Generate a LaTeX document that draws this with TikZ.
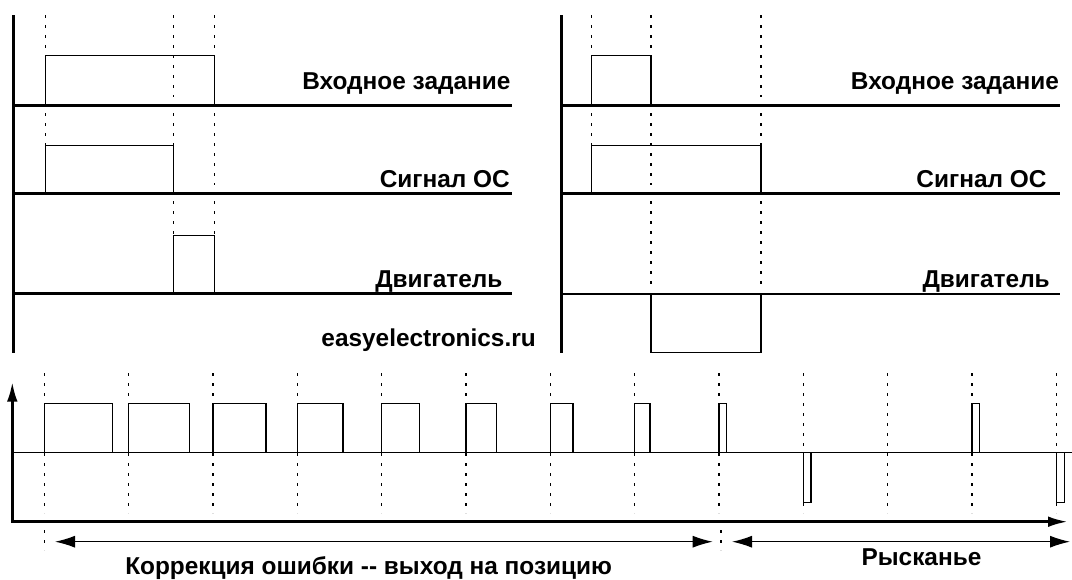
\documentclass[tikz,border=0pt]{standalone}
\usepackage{fontspec}
\setmainfont{Liberation Sans}
\usetikzlibrary{arrows.meta}
\begin{document}
\begin{tikzpicture}[x=0.75pt,y=-0.75pt,
  axis/.style={line width=2.2pt},
  sig/.style={line width=1.05pt},
  grid/.style={line width=1.1pt, dash pattern=on 2pt off 5.5pt},
  lab/.style={font=\bfseries\fontsize{18.3}{22}\selectfont, inner sep=0pt, anchor=base east},
  labw/.style={font=\bfseries\fontsize{18.3}{22}\selectfont, inner sep=0pt, anchor=base west},
  dim/.style={line width=0.9pt, {Latex[length=15pt,width=9pt]}-{Latex[length=15pt,width=9pt]}},
  axarrow/.style={line width=2.2pt, {Latex[length=15pt,width=8pt]}-{Latex[length=15pt,width=8pt]}}]
\useasboundingbox (0,0) rectangle (1072,579);

% ---------- top-left panel ----------
\foreach \x in {45.7,173.3,214.3} {
  \draw[grid] (\x,15) -- (\x,97);
  \draw[grid] (\x,113) -- (\x,185);
}
\foreach \x in {173.3,214.3} \draw[grid] (\x,201) -- (\x,285);
\draw[sig] (45.7,105.3) |- (214.3,55.7) -- (214.3,105.3);
\draw[sig] (45.7,193.3) |- (173.3,145.3) -- (173.3,193.3);
\draw[sig] (173.3,293.5) |- (214.3,235.7) -- (214.3,293.5);
\draw[axis] (13.3,15) -- (13.3,353);
\draw[axis] (13.3,105.3) -- (511.7,105.3);
\draw[axis] (13.3,193.8) -- (511.7,193.8);
\draw[axis] (13.3,293.5) -- (511.7,293.5);
\node[lab] (l1) at (510.7,89) {Входное задание};
\node[lab] (l2) at (510,187.7) {Сигнал ОС};
\node[lab] (l3) at (502.7,287.7) {Двигатель};
\node[lab] (site) at (536,346) {easyelectronics.ru};

% ---------- top-right panel ----------
\foreach \x in {591.7,651,761} {
  \draw[grid] (\x,15) -- (\x,97);
  \draw[grid] (\x,113) -- (\x,185);
}
\foreach \x in {651,761} \draw[grid] (\x,201) -- (\x,285);
\draw[sig] (591.7,105.3) |- (651,55.7) -- (651,105.3);
\draw[sig] (591.7,193.3) |- (761,145.3) -- (761,193.3);
\draw[sig] (651,294) |- (761,352.7) -- (761,294);
\draw[axis] (561.7,15) -- (561.7,353.3);
\draw[axis] (561.7,105.3) -- (1060,105.3);
\draw[axis] (561.7,193.8) -- (1060,193.8);
\draw[axis] (561.7,294) -- (1060,294);
\node[lab] (r1) at (1059.3,89) {Входное задание};
\node[lab] (r2) at (1046.7,187.7) {Сигнал ОС};
\node[lab] (r3) at (1050,287.7) {Двигатель};

% ---------- bottom panel ----------
\foreach \k in {0,...,12} {
  \pgfmathsetmacro\xa{44.3+84.33*\k}
  \draw[grid] (\xa,373) -- (\xa,513);
}
\draw[sig] (12.3,452.7) -- (1072,452.7);
\foreach \k in {0,...,8} {
  \pgfmathsetmacro\xa{44.3+84.33*\k}
  \pgfmathsetmacro\xb{\xa+68.4-7.6*\k}
  \draw[sig] (\xa,452.7) |- (\xb,403.7) -- (\xb,452.7);
}
\draw[sig] (803.3,452.7) |- (810.9,502.3) -- (810.9,452.7);
\draw[sig] (971.9,452.7) |- (979.5,403.7) -- (979.5,452.7);
\draw[sig] (1056.3,452.7) |- (1064.3,502.3) -- (1064.3,452.7);

\coordinate (ytop) at (12.3,381.7);
\coordinate (orig) at (12.3,521.7);
\coordinate (xend) at (1068,521.7);
\draw[axarrow] (ytop) -- (orig) -- (xend);

\draw[grid] (44.3,530) -- (44.3,550);
\draw[grid] (721,530) -- (721,550);
\coordinate (a1) at (55,541.7);
\coordinate (a2) at (712.7,541.7);
\coordinate (b1) at (732,541.7);
\coordinate (b2) at (1070,541.7);
\draw[dim] (a1) -- (a2);
\draw[dim] (b1) -- (b2);
\node[labw] (corr) at (125,574) {Коррекция ошибки -\kern0pt- выход на позицию};
\node[labw] (yaw) at (861.3,565) {Рысканье};
\end{tikzpicture}
\end{document}
